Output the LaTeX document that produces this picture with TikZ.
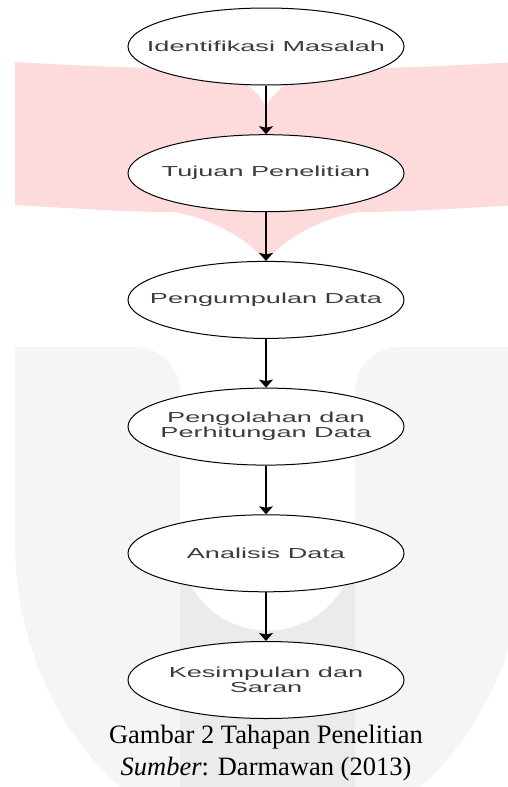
\documentclass[tikz,border=0pt]{standalone}
\usepackage{fontspec}
\setmainfont{Liberation Serif}
\newfontfamily\arialf{Liberation Sans}
\usetikzlibrary{shapes.geometric,arrows.meta}
\definecolor{wmpink}{RGB}{253,219,221}
\definecolor{wmgrey}{RGB}{245,245,245}
\definecolor{wmstripe}{RGB}{235,235,235}
\definecolor{txtgrey}{RGB}{60,60,60}
\newcommand{\wtxt}[1]{\scalebox{1.87}[1]{#1}}
\begin{document}
\begin{tikzpicture}[x=1pt,y=-1pt,
  stepnode/.style={ellipse, draw=black, line width=1pt, fill=white, minimum width=276pt, minimum height=77pt, inner sep=0pt},
  steptext/.style={font=\arialf\fontsize{14.5}{15}\selectfont, text=txtgrey, align=center, inner sep=0pt},
  flow/.style={-{Stealth[width=14pt,length=8pt,inset=1.5pt]}, line width=1.5pt, black},
  captext/.style={font=\fontsize{26.5}{32}\selectfont, inner sep=0pt}]
\useasboundingbox (0,0) rectangle (508,787);
\fill[white] (0,0) rectangle (508,787);
% watermark: grey U
\fill[wmgrey] (15,347) -- (135,347) arc[start angle=-90, end angle=0, radius=45]
  -- (180,543) arc[start angle=180, end angle=0, radius=87.5]
  -- (355,392) arc[start angle=180, end angle=270, radius=45]
  -- (525,347) -- (525,540) arc[start angle=0, end angle=180, x radius=255, y radius=305]
  -- cycle;
\fill[wmstripe] (180,543) rectangle (355,787);
\fill[white] (180,543) arc[start angle=180, end angle=0, radius=87.5] -- cycle;
% watermark: pink band
\fill[wmpink] (15,62) .. controls (100,67) and (165,69) .. (215,69)
  .. controls (236,74) and (256,88) .. (266,107)
  .. controls (276,88) and (296,74) .. (317,69)
  .. controls (367,69) and (432,67) .. (517,62) -- (517,205)
  .. controls (432,210) and (400,212) .. (357,212)
  .. controls (317,220) and (282,240) .. (266,262)
  .. controls (250,240) and (215,220) .. (175,212)
  .. controls (132,212) and (100,210) .. (15,205) -- cycle;
% steps
\node[stepnode] (e1) at (266,46.5) {};
\node[stepnode] (e2) at (266,173.2) {};
\node[stepnode] (e3) at (266,299.9) {};
\node[stepnode] (e4) at (266,426.6) {};
\node[stepnode] (e5) at (266,553.3) {};
\node[stepnode] (e6) at (266,680) {};
\node[steptext] (t1) at (e1) {\wtxt{Identifikasi Masalah}};
\node[steptext] (t2) at (e2) {\wtxt{Tujuan Penelitian}};
\node[steptext] (t3) at (e3) {\wtxt{Pengumpulan Data}};
\node[steptext] (t4) at (e4) {\wtxt{Pengolahan dan}\\\wtxt{Perhitungan Data}};
\node[steptext] (t5) at (e5) {\wtxt{Analisis Data}};
\node[steptext] (t6) at (e6) {\wtxt{Kesimpulan dan}\\\wtxt{Saran}};
\draw[flow] (e1.south) -- (e2.north);
\draw[flow] (e2.south) -- (e3.north);
\draw[flow] (e3.south) -- (e4.north);
\draw[flow] (e4.south) -- (e5.north);
\draw[flow] (e5.south) -- (e6.north);
% caption
\node[captext, anchor=base] (cap1) at (266,743) {Gambar 2 Tahapan Penelitian};
\node[captext, anchor=base] (cap2) at (266,775) {\textit{Sumber}: Darmawan (2013)};
\end{tikzpicture}
\end{document}
